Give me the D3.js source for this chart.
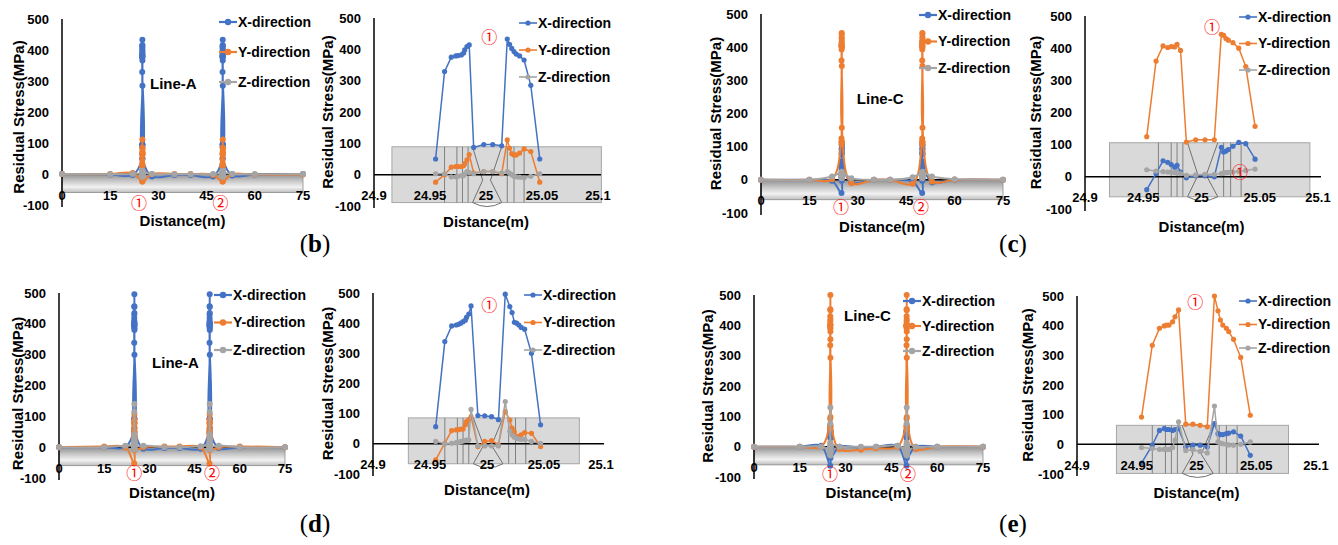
<!DOCTYPE html>
<html>
<head>
<meta charset="utf-8">
<script src="https://cdn.jsdelivr.net/npm/d3@7"></script>
<style>
  body { margin: 0; background: #fff; }
  text { font-family: "Liberation Sans", Arial, sans-serif; font-weight: bold; fill: #000; }
</style>
</head>
<body>
<script>
// ---- data ----
var seriesNames = ["X-direction", "Y-direction", "Z-direction"];
var colors = ["#4472c4", "#ed7d31", "#a5a5a5"];
var wideTicks = [0, 15, 30, 45, 60, 75];
var zoomTicks = [24.9, 24.95, 25, 25.05, 25.1];
var yTicks = [500, 400, 300, 200, 100, 0, -100];
var farDist = [0, 15, 22, 28, 35, 40, 47, 53, 60, 75];

// (b) weld zone detail
var bDist = [24.955, 24.963, 24.969, 24.973, 24.975, 24.978, 24.980, 24.981, 24.983, 24.985, 24.989, 24.998,
  25.006, 25.014, 25.019, 25.021, 25.023, 25.025, 25.027, 25.030, 25.034, 25.040, 25.048];
var bX = [50, 329, 375, 379, 380, 382, 388, 398, 409, 414, 87, 96, 96, 92, 433, 416, 403, 393, 385, 379, 366, 285, 50];
var bY = [-24, 0, 24, 26, 26, 26, 29, 35, 47, 64, 5, 10, 10, 3, 111, 85, 67, 63, 63, 69, 82, 74, -24];
var bZ = [3, 3, -7, -7, -5, -3, -3, 2, 10, 7, 3, 10, 10, 5, 10, 5, 0, -5, -7, -8, -10, -5, 3];
var bFarX = [0, -2, -3, -8, -3, -3, -8, -5, -2, 0];
var bFarY = [0, 0, 3, 0, 0, 0, -3, 0, -2, -2];
var bFarZ = [0, -1, 0, 0, -1, -1, 0, 0, -1, 0];

// (c)
var cDist = [24.953, 24.961, 24.967, 24.971, 24.974, 24.977, 24.979, 24.982, 24.987, 24.995, 25.003, 25.011,
  25.017, 25.019, 25.021, 25.023, 25.027, 25.032, 25.038, 25.046];
var cX = [-40, 10, 50, 45, 38, 30, 36, 15, -3, 3, 3, 0, 92, 77, 80, 85, 95, 107, 103, 55];
var cY = [125, 360, 407, 402, 405, 404, 412, 393, 108, 115, 115, 115, 443, 440, 430, 425, 417, 400, 343, 157];
var cZ = [22, 18, 16, 15, 14, 13, 12, 10, 5, 6, 8, 8, 10, 12, 13, 14, 15, 17, 20, 24];
var cFarX = [0, 0, -3, -8, 0, 0, -5, -8, 0, 0];
var cFarY = [0, 0, 2, -10, 0, 0, -12, -5, 0, 0];
var cFarZ = [0, 0, 10, 5, 0, 0, 8, 10, 2, 0];

// (d)
var dDist = [24.955, 24.963, 24.969, 24.973, 24.975, 24.977, 24.979, 24.981, 24.982, 24.984, 24.986, 24.992,
  24.998, 25.004, 25.010, 25.016, 25.020, 25.022, 25.024, 25.026, 25.028, 25.030, 25.033, 25.039, 25.047];
var dX = [57, 339, 391, 394, 396, 400, 405, 410, 419, 430, 457, 94, 93, 90, 80, 496, 455, 435, 403, 400, 394, 386, 380, 300, 63];
var dY = [-53, 2, 44, 46, 47, 49, 49, 63, 74, 80, 90, -9, 8, 11, -3, 107, 79, 52, 40, 24, 25, 30, 37, 35, -9];
var dZ = [8, 0, 2, 4, 5, 8, 9, 11, 12, 13, 114, -6, -7, -7, -7, 140, 42, 29, 22, 18, 16, 15, 15, 8, 2];
var dFarX = [0, 0, 0, -5, -3, -3, -5, -3, 0, 0];
var dFarY = [0, 2, 0, 0, 2, 2, 0, 0, 2, 0];
var dFarZ = [0, 0, 5, 5, 0, 0, 3, 5, 0, 0];

// (e)
var eDist = [24.954, 24.963, 24.969, 24.973, 24.975, 24.977, 24.980, 24.982, 24.985, 24.991, 24.997, 25.003,
  25.009, 25.015, 25.018, 25.020, 25.022, 25.025, 25.027, 25.031, 25.037, 25.045];
var eX = [-63, -3, 47, 53, 50, 50, 47, 50, 53, -9, -3, -3, -9, 70, 36, 33, 33, 36, 38, 42, 28, -37];
var eY = [92, 334, 391, 399, 402, 402, 413, 430, 453, 68, 68, 64, 59, 500, 450, 419, 402, 391, 380, 354, 293, 98];
var eZ = [-11, -14, -17, -17, -17, -17, -11, 14, 76, -21, -18, -24, -29, 129, 8, 4, 2, 0, -2, -3, 0, 8];
var eFarX = [0, 0, 3, 0, -3, 0, 3, 0, 0, 0];
var eFarY = [0, 0, 0, -8, -10, -5, 0, -8, 0, 0];
var eFarZ = [0, 0, 0, 0, 0, 0, 3, 0, 0, 0];

// weld cross-section sketch behind the zoomed charts (distance units)
var meshLines = [24.963, 24.974, 24.979, 24.984, 25.019, 25.025, 25.034];
var hourglass = [24.988, 24.997, 25.004, 25.014];

// ---- layout ----
var panels = [
  { kind: "wide", xr: [62, 303], yr: [205, 19], dist: bDist, vals: [bX, bY, bZ], far: [bFarX, bFarY, bFarZ],
    legend: [238, 22, 30], ytx: 19, yty: 5, xty: 221, tag: ["Line-A", 27.4, 290], marks: [["①", 24, -93], ["②", 49.3, -93]] },
  { kind: "zoom", xr: [374, 598], yr: [206, 18], dist: bDist, vals: [bX, bY, bZ], band: [24.916, 25.103, 89, -89],
    legend: [538, 23, 27], ytx: 328, yty: 0, xty: 222, marks: [["①", 25.003, 440]] },
  { kind: "wide", xr: [761, 1003], yr: [213, 14], dist: cDist, vals: [cX, cY, cZ], far: [cFarX, cFarY, cFarZ],
    legend: [938, 15, 26.5], ytx: 716, yty: 0, xty: 227, tag: ["Line-C", 29.7, 244], marks: [["①", 24.8, -84], ["②", 49.6, -84]] },
  { kind: "zoom", xr: [1085, 1318], yr: [209, 16], dist: cDist, vals: [cX, cY, cZ], band: [24.921, 25.093, 106, -62],
    legend: [1258, 17, 26.5], ytx: 1036, yty: 0, xty: 227, marks: [["①", 25.009, 466], ["①", 25.033, 15]] },
  { kind: "wide", xr: [59, 285], yr: [478, 293], dist: dDist, vals: [dX, dY, dZ], far: [dFarX, dFarY, dFarZ],
    legend: [233, 295, 27.5], ytx: 18, yty: 8, xty: 493, tag: ["Line-A", 30.9, 273], marks: [["①", 25, -84], ["②", 50.8, -84]] },
  { kind: "zoom", xr: [373, 601], yr: [474, 293], dist: dDist, vals: [dX, dY, dZ], band: [24.931, 25.081, 86, -66],
    legend: [543, 295, 27.5], ytx: 328, yty: 0, xty: 490, marks: [["①", 25.002, 460]] },
  { kind: "wide", xr: [754, 983], yr: [477, 295], dist: eDist, vals: [eX, eY, eZ], far: [eFarX, eFarY, eFarZ],
    legend: [922, 301, 25], ytx: 708, yty: 0, xty: 493, tag: ["Line-C", 29.5, 431], marks: [["①", 24.9, -92], ["②", 50.4, -92]] },
  { kind: "zoom", xr: [1077, 1316], yr: [474, 296], dist: eDist, vals: [eX, eY, eZ], band: [24.933, 25.077, 64, -98],
    legend: [1258, 301, 23.5], ytx: 1028, yty: 0, xty: 493, marks: [["①", 24.999, 480]] }
];
var figLabels = [["b", 315, 252], ["c", 1013, 252], ["d", 315, 532], ["e", 1013, 532]];

var svg = d3.select("body").append("svg").attr("width", 1338).attr("height", 545);
svg.append("rect").attr("width", 1338).attr("height", 545).attr("fill", "#fff");

var grad = svg.append("defs").append("linearGradient").attr("id", "band")
  .attr("x1", 0).attr("y1", 0).attr("x2", 0).attr("y2", 1);
[[0, "#8f8f8f"], [0.35, "#c4c4c4"], [0.7, "#f2f2f2"], [1, "#bdbdbd"]].forEach(function (s) {
  grad.append("stop").attr("offset", s[0]).attr("stop-color", s[1]);
});

function wideSeries(far, dist, vals) {
  var pts = farDist.map(function (d, i) { return [d, far[i]]; });
  dist.forEach(function (d, i) {
    pts.push([d, vals[i]]);
    pts.push([d + 25, vals[i]]);
  });
  return pts.sort(function (a, b) { return a[0] - b[0]; });
}

function drawPanel(p) {
  var wide = p.kind === "wide";
  var x = d3.scaleLinear().domain(wide ? [0, 75] : [24.9, 25.1]).range(p.xr);
  var y = d3.scaleLinear().domain([-100, 500]).range(p.yr);
  var g = svg.append("g");

  // background sketch
  if (wide) {
    g.append("rect").attr("x", x(0)).attr("y", y(0)).attr("width", x(75) - x(0)).attr("height", y(-60) - y(0))
      .attr("fill", "url(#band)").attr("stroke", "#8c8c8c").attr("stroke-width", 0.8);
  } else {
    var b = p.band;
    g.append("rect").attr("x", x(b[0])).attr("y", y(b[2])).attr("width", x(b[1]) - x(b[0])).attr("height", y(b[3]) - y(b[2]))
      .attr("fill", "#d9d9d9").attr("stroke", "#a6a6a6").attr("stroke-width", 1);
    meshLines.forEach(function (m) {
      g.append("line").attr("x1", x(m)).attr("x2", x(m)).attr("y1", y(b[2])).attr("y2", y(b[3]))
        .attr("stroke", "#808080").attr("stroke-width", 1);
    });
    var wy = y(b[2]) + (y(b[3]) - y(b[2])) * 0.6;
    g.append("path")
      .attr("d", "M" + x(hourglass[0]) + "," + y(b[2]) + "L" + x(hourglass[1]) + "," + wy + "L" + x(hourglass[0]) + "," + y(b[3]) +
        "M" + x(hourglass[3]) + "," + y(b[2]) + "L" + x(hourglass[2]) + "," + wy + "L" + x(hourglass[3]) + "," + y(b[3]) +
        "M" + x(hourglass[0]) + "," + y(b[3]) + "Q" + x((hourglass[0] + hourglass[3]) / 2) + "," + (y(b[3]) + 8) + " " + x(hourglass[3]) + "," + y(b[3]))
      .attr("fill", "none").attr("stroke", "#707070").attr("stroke-width", 1);
  }

  // axes
  g.append("line").attr("x1", x.range()[0]).attr("x2", x.range()[1] + (wide ? 0 : 3)).attr("y1", y(0)).attr("y2", y(0))
    .attr("stroke", "#000").attr("stroke-width", 1.5);
  g.append("line").attr("x1", x.range()[0]).attr("x2", x.range()[0]).attr("y1", y(500)).attr("y2", y(-100) + 2)
    .attr("stroke", "#000").attr("stroke-width", 1.5);

  // series
  var line = d3.line().x(function (d) { return x(d[0]); }).y(function (d) { return y(d[1]); })
    .curve(wide ? d3.curveCatmullRom.alpha(0.5) : d3.curveLinear);
  p.vals.forEach(function (v, k) {
    var pts = wide ? wideSeries(p.far[k], p.dist, v) : p.dist.map(function (d, i) { return [d, v[i]]; });
    g.append("path").datum(pts).attr("d", line).attr("fill", "none")
      .attr("stroke", colors[k]).attr("stroke-width", wide ? 2 : 1.5);
    g.selectAll(null).data(pts).enter().append("circle")
      .attr("cx", function (d) { return x(d[0]); }).attr("cy", function (d) { return y(d[1]); })
      .attr("r", wide ? 3 : 2.6).attr("fill", colors[k]);
  });

  // tick labels
  g.selectAll(null).data(yTicks).enter().append("text")
    .attr("x", x.range()[0] - 13).attr("y", function (d) { return y(d); }).attr("dy", "0.35em")
    .attr("text-anchor", "end").style("font-size", "13px").text(function (d) { return d; });
  g.selectAll(null).data(wide ? wideTicks : zoomTicks).enter().append("text")
    .attr("x", function (d) { return x(d); }).attr("y", y(0) + 21).attr("dy", "0.35em")
    .attr("text-anchor", "middle").style("font-size", "13px").text(function (d) { return d; });

  // titles
  var ym = (y(500) + y(-100)) / 2 + p.yty;
  g.append("text").attr("transform", "translate(" + p.ytx + "," + ym + ") rotate(-90)").attr("dy", "0.35em")
    .attr("text-anchor", "middle").style("font-size", "15px").text("Residual  Stress(MPa)");
  g.append("text").attr("x", (x.range()[0] + x.range()[1]) / 2).attr("y", p.xty).attr("dy", "0.35em")
    .attr("text-anchor", "middle").style("font-size", "15px").text("Distance(m)");
  if (p.tag) {
    g.append("text").attr("x", x(p.tag[1])).attr("y", y(p.tag[2])).attr("dy", "0.35em")
      .style("font-size", "15px").text(p.tag[0]);
  }
  p.marks.forEach(function (m) {
    g.append("text").attr("x", x(m[1])).attr("y", y(m[2])).attr("dy", "0.36em").attr("text-anchor", "middle")
      .style("font-family", "'Noto Sans CJK JP', 'DejaVu Sans', sans-serif").style("font-weight", "normal")
      .style("font-size", "16px").style("fill", "#ff0000").text(m[0]);
  });

  // legend
  var lg = p.legend;
  seriesNames.forEach(function (s, k) {
    var ly = lg[1] + k * lg[2];
    g.append("line").attr("x1", lg[0] - 19).attr("x2", lg[0] - 1).attr("y1", ly).attr("y2", ly)
      .attr("stroke", colors[k]).attr("stroke-width", wide ? 2.2 : 1.6);
    g.append("circle").attr("cx", lg[0] - 10).attr("cy", ly).attr("r", wide ? 3.2 : 2.6).attr("fill", colors[k]);
    g.append("text").attr("x", lg[0]).attr("y", ly).attr("dy", "0.35em").style("font-size", "14px").text(s);
  });
}

panels.forEach(drawPanel);

figLabels.forEach(function (f) {
  var t = svg.append("text").attr("x", f[1]).attr("y", f[2]).attr("text-anchor", "middle")
    .style("font-family", "'Liberation Serif', 'Times New Roman', serif").style("font-weight", "normal").style("font-size", "25px");
  t.append("tspan").text("(");
  t.append("tspan").style("font-weight", "bold").text(f[0]);
  t.append("tspan").text(")");
});
</script>
</body>
</html>
